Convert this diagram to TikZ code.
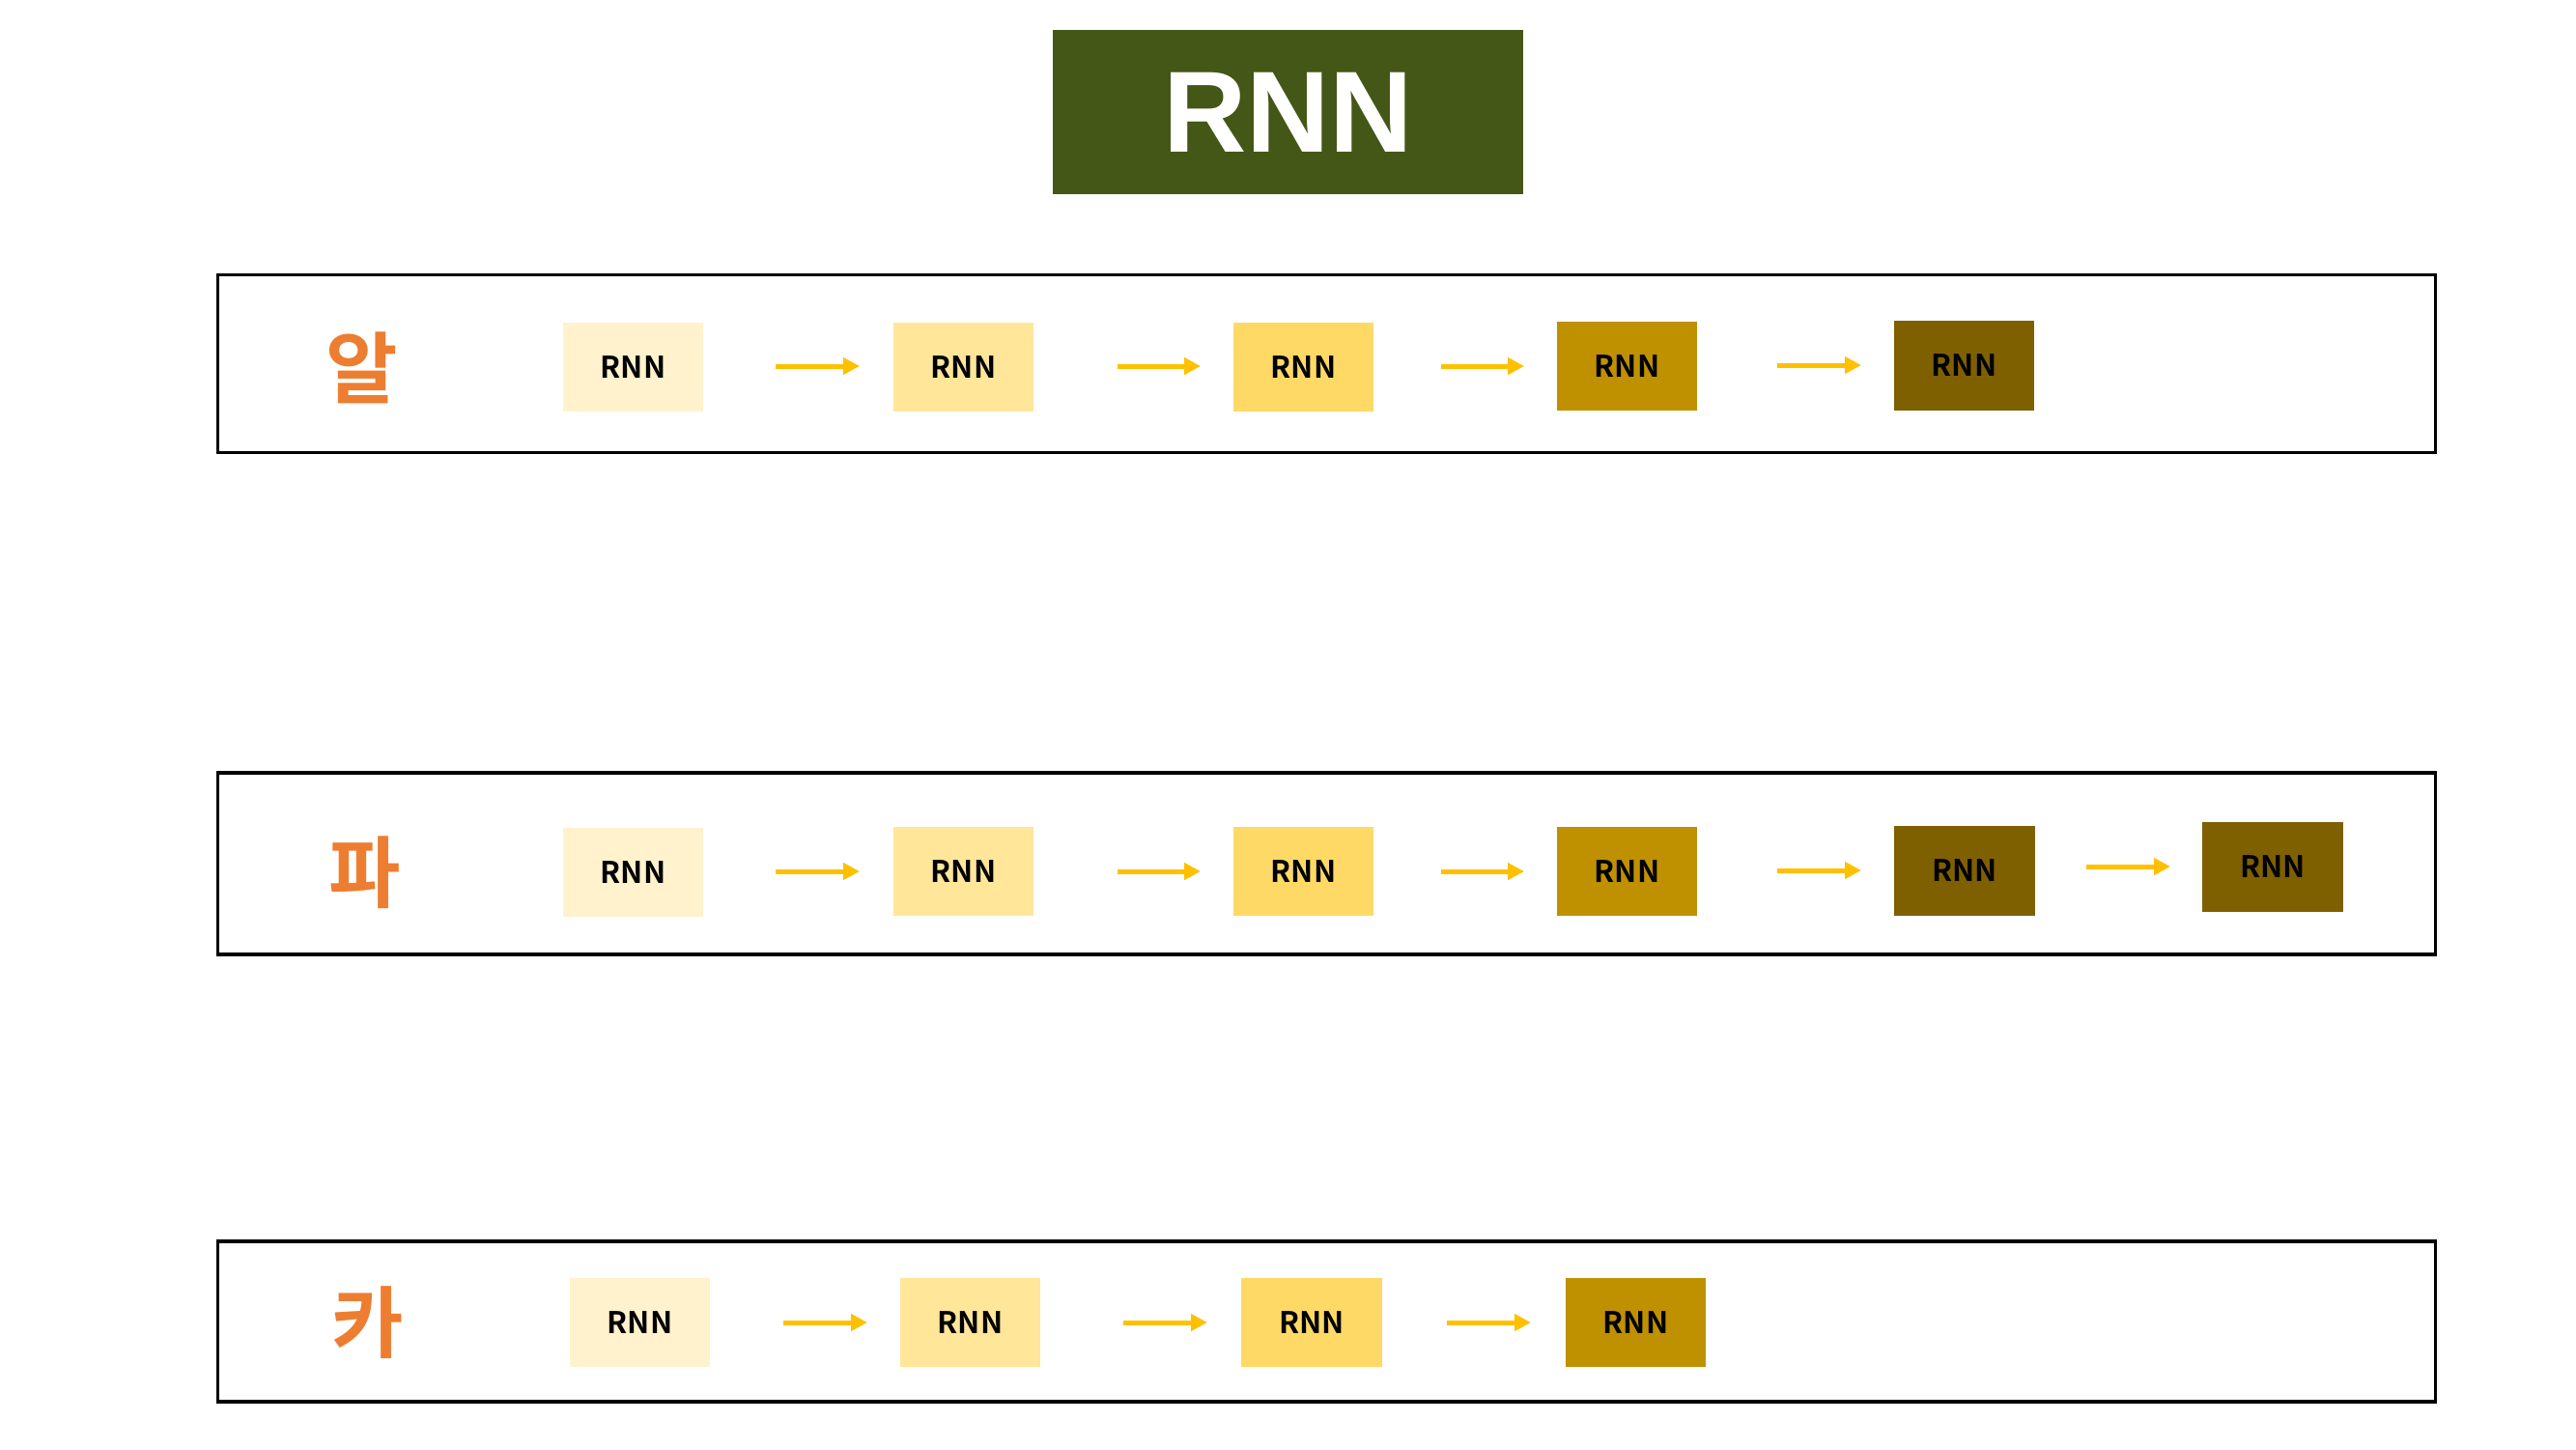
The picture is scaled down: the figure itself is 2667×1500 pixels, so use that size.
\documentclass[tikz,border=0pt]{standalone}
\usepackage{fontspec}
\setmainfont{Liberation Sans}
\newfontfamily\krfont{Noto Sans CJK KR}[BoldFont={Noto Sans CJK KR Bold}]
\usetikzlibrary{arrows.meta}
\definecolor{titlegreen}{HTML}{445716}
\definecolor{cA}{HTML}{FFF2CC}
\definecolor{cB}{HTML}{FFE699}
\definecolor{cC}{HTML}{FFD966}
\definecolor{cD}{HTML}{BF9000}
\definecolor{cE}{HTML}{7F6000}
\definecolor{arrowc}{HTML}{FFC000}
\definecolor{korange}{HTML}{ED7D31}
\tikzset{
  rowframe/.style={draw=black, line width=0.035cm, fill=none},
  rnnbox/.style={minimum width=1.45cm, minimum height=0.92cm, inner sep=0pt,
    font=\krfont\bfseries\fontsize{8.8}{10}\selectfont, text=black},
  flowarrow/.style={draw=arrowc, line width=0.05cm, -{Triangle[length=0.17cm,width=0.17cm]}},
  klabel/.style={inner sep=0pt, text=korange, font=\krfont\bfseries\fontsize{23}{26}\selectfont}
}
\begin{document}
\begin{tikzpicture}[x=0.01cm, y=-0.01cm]
\useasboundingbox (0,0) rectangle (2667,1500);
% title
\node[fill=titlegreen, minimum width=4.87cm, minimum height=1.70cm, inner sep=0pt,
  text=white, font=\bfseries\fontsize{34}{38}\selectfont] (title) at (1333.5,116) {RNN};
% row frames
\node[rowframe, minimum width=22.95cm, minimum height=1.84cm, inner sep=0pt] (row1) at (1373.5,376.5) {};
\node[rowframe, minimum width=22.95cm, minimum height=1.88cm, inner sep=0pt] (row2) at (1373.5,894) {};
\node[rowframe, minimum width=22.95cm, minimum height=1.66cm, inner sep=0pt] (row3) at (1373.5,1368) {};
% labels
\node[klabel] (k1) at (375,381) {알};
\node[klabel] (k2) at (378,903) {파};
\node[klabel] (k3) at (381,1369) {카};
% row 1
\node[rnnbox, fill=cA] (a1) at (655.5,380) {RNN};
\node[rnnbox, fill=cB] (a2) at (997.5,380) {RNN};
\node[rnnbox, fill=cC] (a3) at (1349.5,380) {RNN};
\node[rnnbox, fill=cD] (a4) at (1684.5,379) {RNN};
\node[rnnbox, fill=cE] (a5) at (2033.5,378.5) {RNN};
\coordinate (a1s) at (803,379); \coordinate (a1e) at (890,379);
\coordinate (a2s) at (1157,379); \coordinate (a2e) at (1243,379);
\coordinate (a3s) at (1492,379); \coordinate (a3e) at (1578,379);
\coordinate (a4s) at (1840,378); \coordinate (a4e) at (1927,378);
\draw[flowarrow] (a1s) -- (a1e);
\draw[flowarrow] (a2s) -- (a2e);
\draw[flowarrow] (a3s) -- (a3e);
\draw[flowarrow] (a4s) -- (a4e);
% row 2
\node[rnnbox, fill=cA] (b1) at (655.5,903) {RNN};
\node[rnnbox, fill=cB] (b2) at (997.5,902) {RNN};
\node[rnnbox, fill=cC] (b3) at (1349.5,902) {RNN};
\node[rnnbox, fill=cD] (b4) at (1684.5,902) {RNN};
\node[rnnbox, fill=cE] (b5) at (2034,901.5) {RNN};
\node[rnnbox, fill=cE] (b6) at (2353,897.5) {RNN};
\coordinate (b1s) at (803,902); \coordinate (b1e) at (890,902);
\coordinate (b2s) at (1157,902); \coordinate (b2e) at (1243,902);
\coordinate (b3s) at (1492,902); \coordinate (b3e) at (1578,902);
\coordinate (b4s) at (1840,901); \coordinate (b4e) at (1927,901);
\coordinate (b5s) at (2160,897); \coordinate (b5e) at (2247,897);
\draw[flowarrow] (b1s) -- (b1e);
\draw[flowarrow] (b2s) -- (b2e);
\draw[flowarrow] (b3s) -- (b3e);
\draw[flowarrow] (b4s) -- (b4e);
\draw[flowarrow] (b5s) -- (b5e);
% row 3
\node[rnnbox, fill=cA] (c1) at (662.5,1369) {RNN};
\node[rnnbox, fill=cB] (c2) at (1004.5,1369) {RNN};
\node[rnnbox, fill=cC] (c3) at (1358,1369) {RNN};
\node[rnnbox, fill=cD] (c4) at (1693.5,1369) {RNN};
\coordinate (c1s) at (811,1369); \coordinate (c1e) at (898,1369);
\coordinate (c2s) at (1163,1369); \coordinate (c2e) at (1250,1369);
\coordinate (c3s) at (1498,1369); \coordinate (c3e) at (1585,1369);
\draw[flowarrow] (c1s) -- (c1e);
\draw[flowarrow] (c2s) -- (c2e);
\draw[flowarrow] (c3s) -- (c3e);
\end{tikzpicture}
\end{document}
